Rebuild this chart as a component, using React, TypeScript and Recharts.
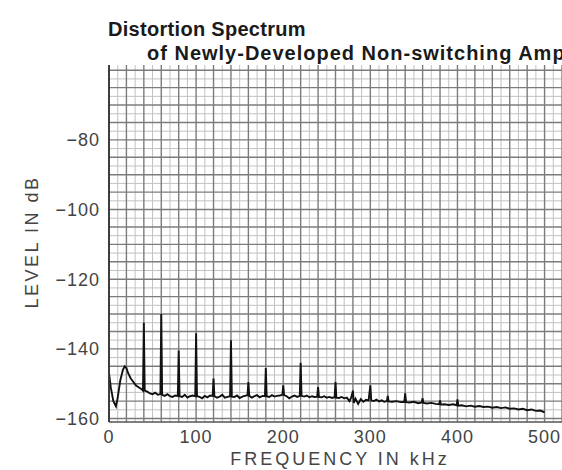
import { LineChart, Line, XAxis, YAxis, ReferenceLine } from "recharts";

// spectrum trace (kHz, dB)
const frequencyKHz = [
  0, 2, 5, 8, 10, 13, 16, 18, 20, 22, 25, 28, 31, 34, 37, 39, 40, 41, 44, 47,
  50, 53, 56, 59, 60, 61, 64, 67, 70, 73, 76, 79, 80, 81, 84, 87, 90, 93, 96, 99,
  100, 101, 104, 107, 110, 113, 116, 119, 120, 121, 124, 127, 130, 133, 136, 139,
  140, 141, 144, 147, 150, 153, 156, 159, 160, 161, 164, 167, 170, 173, 176, 179,
  180, 181, 184, 187, 190, 193, 196, 199, 200, 201, 204, 207, 210, 213, 216, 219,
  220, 221, 224, 227, 230, 233, 236, 239, 240, 241, 244, 247, 250, 253, 256, 259,
  260, 261, 264, 267, 270, 273, 276, 278, 280, 281, 283, 286, 289, 292, 295, 298,
  300, 301, 304, 307, 310, 313, 316, 319, 320, 321, 325, 330, 335, 339, 340, 341,
  345, 350, 355, 359, 360, 361, 365, 370, 375, 379, 380, 381, 385, 390, 395, 399,
  400, 401, 405, 410, 415, 420, 425, 430, 435, 440, 445, 450, 455, 460, 465, 470,
  475, 480, 485, 490, 495, 500,
];

const levelDb = [
  -147, -151, -155, -156.5, -154, -149, -146, -145, -145.5, -147, -148.5, -149.5, -150.5, -151, -151.5, -152, -132.5, -152, -152.3, -152.8,
  -153, -152.6, -153.2, -153, -130, -153.2, -153.5, -153, -153.6, -153.8, -153.4, -153.5, -140.5, -153.6, -153.8, -153.2, -154, -153.6, -153.4, -153.6,
  -135.5, -153.6, -153.8, -154.2, -153.5, -153.9, -153.4, -153.5, -148.5, -153.6, -154, -153.7, -153.2, -154, -153.8, -153.6,
  -137.5, -153.7, -153.8, -153.4, -154.1, -153.7, -153.5, -153.3, -149.5, -153.5, -154, -153.6, -153.3, -153.9, -153.5, -153.6,
  -145.5, -153.6, -153.8, -153.3, -153.7, -153.5, -153.4, -153.2, -150.5, -153.3, -153.6, -154.2, -153.7, -153.4, -153.8, -153.5,
  -144, -153.5, -153.7, -153.4, -153.9, -153.6, -153.8, -153.7, -151, -153.8, -153.9, -153.6, -154, -153.8, -154.1, -153.9,
  -149.5, -154, -154.1, -153.8, -154.2, -154, -155, -154, -152, -155.5, -154.3, -155.8, -154.4, -155.2, -154.6, -154.8,
  -150.5, -154.8, -155, -154.6, -155.1, -154.8, -155.2, -155, -153.5, -155.1, -155.2, -155, -155.3, -155.2, -152.8, -155.3,
  -155.4, -155.2, -155.6, -155.4, -154.2, -155.5, -155.7, -155.5, -155.8, -155.9, -154.8, -156, -155.9, -156.1, -155.9, -156.2,
  -154.5, -156.3, -156.2, -156.5, -156.3, -156.6, -156.4, -156.7, -156.6, -156.9, -156.7, -157, -156.8, -157.2, -157.1, -157.4,
  -157.2, -157.6, -157.4, -157.8, -157.7, -158.2,
];

const xTicks = [0, 100, 200, 300, 400, 500];
const yTicks = [-160, -140, -120, -100, -80];

const xGridMajor = [0, 20, 40, 60, 80, 100, 120, 140, 160, 180, 200, 220, 240, 260, 280, 300, 320, 340, 360, 380, 400, 420, 440, 460, 480, 500, 520];
const xGridMinor = [10, 30, 50, 70, 90, 110, 130, 150, 170, 190, 210, 230, 250, 270, 290, 310, 330, 350, 370, 390, 410, 430, 450, 470, 490, 510];
const yGridMajor = [-160, -155, -150, -145, -140, -135, -130, -125, -120, -115, -110, -105, -100, -95, -90, -85, -80, -75, -70, -65, -60];
const yGridMinor = [-157.5, -152.5, -147.5, -142.5, -137.5, -132.5, -127.5, -122.5, -117.5, -112.5, -107.5, -102.5, -97.5, -92.5, -87.5, -82.5, -77.5, -72.5, -67.5, -62.5];

const data = frequencyKHz.map((f, i) => ({ f, level: levelDb[i] }));

const FONT = "'Liberation Sans', Arial, Helvetica, sans-serif";

export default function App() {
  return (
    <div style={{ position: "absolute", left: 0, top: 0, width: 562, height: 470, background: "#fff", overflow: "hidden" }}>
      <LineChart
        width={562}
        height={470}
        data={data}
        margin={{ top: 65, right: 0, left: 39, bottom: 18 }}
      >
        {xGridMinor.map((v) => (
          <ReferenceLine key={"xm" + v} x={v} stroke="#c2c2c2" strokeWidth={1} />
        ))}
        {yGridMinor.map((v) => (
          <ReferenceLine key={"ym" + v} y={v} stroke="#c2c2c2" strokeWidth={1} />
        ))}
        {xGridMajor.map((v) => (
          <ReferenceLine key={"xM" + v} x={v} stroke="#7c7c7c" strokeWidth={1.4} />
        ))}
        {yGridMajor.map((v) => (
          <ReferenceLine key={"yM" + v} y={v} stroke="#7c7c7c" strokeWidth={1.4} />
        ))}
        <XAxis
          dataKey="f"
          type="number"
          domain={[0, 520]}
          ticks={xTicks}
          height={30}
          tickLine={false}
          tickSize={0}
          tickMargin={8}
          axisLine={{ stroke: "#555", strokeWidth: 1.5 }}
          tick={{ fontFamily: FONT, fontSize: 18, fill: "#444", letterSpacing: 1 }}
          allowDataOverflow
        />
        <YAxis
          type="number"
          domain={[-161, -58.5]}
          ticks={yTicks}
          width={70}
          tickLine={false}
          tickSize={0}
          tickMargin={9}
          axisLine={{ stroke: "#333", strokeWidth: 1.8 }}
          tickFormatter={(v: number) => "\u2212" + Math.abs(v)}
          tick={{ fontFamily: FONT, fontSize: 18, fill: "#444", letterSpacing: 1 }}
          allowDataOverflow
        />
        <Line
          type="linear"
          dataKey="level"
          stroke="#111"
          strokeWidth={1.9}
          dot={false}
          isAnimationActive={false}
        />
      </LineChart>
      <svg
        width={562}
        height={470}
        style={{ position: "absolute", left: 0, top: 0, pointerEvents: "none" }}
      >
        <text x={108} y={36} fontFamily={FONT} fontSize={20} fontWeight="bold" fill="#1a1a1a" letterSpacing={0.3}>
          Distortion Spectrum
        </text>
        <text x={147} y={60} fontFamily={FONT} fontSize={20} fontWeight="bold" fill="#1a1a1a" letterSpacing={1}>
          of Newly-Developed Non-switching Amplifier
        </text>
        <text
          transform="translate(38,242) rotate(-90)"
          textAnchor="middle"
          fontFamily={FONT}
          fontSize={18}
          fill="#444"
          letterSpacing={2.5}
        >
          LEVEL IN dB
        </text>
        <text x={340} y={465} textAnchor="middle" fontFamily={FONT} fontSize={18} fill="#444" letterSpacing={3}>
          FREQUENCY IN kHz
        </text>
      </svg>
    </div>
  );
}
